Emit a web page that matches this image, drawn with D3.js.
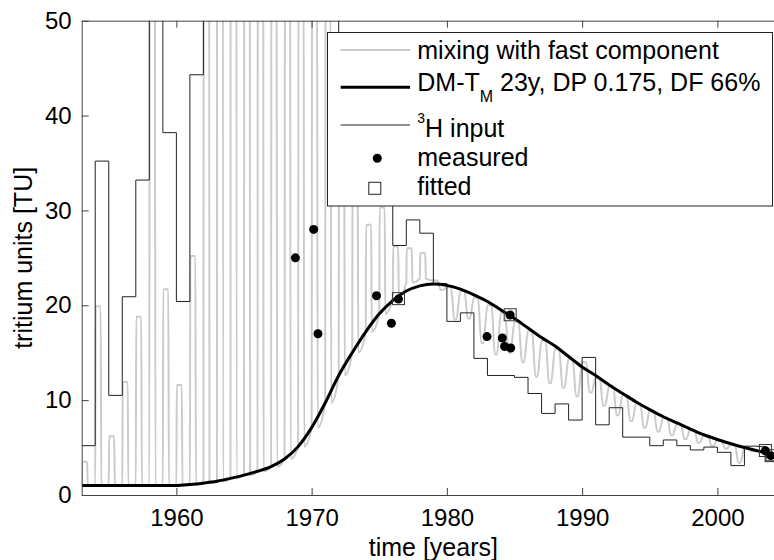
<!DOCTYPE html>
<meta charset="utf-8">
<head>
<script src="https://d3js.org/d3.v7.min.js"></script>
<style>
body { margin: 0; background: #fff; }
text { font-family: "Liberation Sans", Arial, Helvetica, sans-serif; fill: #000; }
.tick text { font-size: 24px; }
.axis path, .axis line { stroke: #444; }
</style>
</head>
<body>
<div id="my_dataviz"></div>
<script>
// 3H input (annual steps; values above 50 leave the plot)
var inputStart = [1953, 1954, 1955, 1956, 1957, 1958, 1959, 1960, 1961, 1962, 1963, 1964, 1965,
  1966, 1967, 1968, 1969, 1970, 1971, 1972, 1973, 1974, 1975, 1976, 1977, 1978, 1979, 1980,
  1981, 1982, 1983, 1984, 1985, 1986, 1987, 1988, 1989, 1990, 1991, 1992, 1993, 1994, 1995,
  1996, 1997, 1998, 1999, 2000, 2001, 2002, 2003, 2003.6];
var inputTU = [5.2, 35.2, 10.5, 20.9, 33.2, 120, 38.2, 20.4, 44.3, 200, 900, 600, 300,
  180, 120, 110, 100, 90, 80, 42, 40, 38, 35, 26.3, 29.0, 27.6, 22.3, 18.3,
  19.2, 14.4, 12.6, 12.6, 12.4, 10.7, 8.6, 9.6, 7.9, 14.5, 7.4, 9.2, 6.1, 6.1, 5.2,
  5.8, 5.2, 4.75, 5.05, 4.5, 3.1, 5.15, 5.1, 3.6];

// mixing with fast component: winter level and summer level for each year
var mixYear = d3.range(1953, 2005);
var mixLow = [1.0, 1.0, 1.0, 1.0, 1.0, 1.0, 1.0, 1.0, 1.1, 1.25, 1.45, 1.75, 2.1,
  2.5, 3.0, 3.8, 5.1, 7.1, 9.7, 12.6, 15.0, 17.2, 19.1, 20.8, 22.4, 22.8, 21.6, 18.5,
  18.6, 16.0, 14.8, 15.0, 14.0, 12.5, 11.8, 11.3, 10.4, 10.8, 9.4, 8.4, 7.8, 7.1, 6.7,
  6.3, 5.9, 5.5, 5.2, 4.9, 3.4, 4.6, 4.2, 4.0];
var mixHigh = [3.5, 19.9, 6.2, 11.9, 18.8, 75, 21.7, 11.6, 25.2, 110, 300, 250, 150,
  100, 70, 65, 60, 55, 52, 45, 36, 28.5, 30.3, 26.2, 26.0, 25.5, 22.6, 21.9,
  21.5, 20.8, 20.0, 19.2, 18.3, 17.3, 16.3, 15.4, 14.4, 14.0, 12.4, 11.5, 10.6, 9.7, 8.9,
  8.2, 7.5, 6.9, 6.3, 5.8, 5.3, 5.0, 4.6, 4.3];

// DM model curve
var dmYear = d3.range(1953, 2006);
var dmTU = [1.0, 1.0, 1.0, 1.0, 1.0, 1.0, 1.0, 1.0, 1.1, 1.25, 1.45, 1.75, 2.1,
  2.5, 3.0, 3.8, 5.1, 7.1, 9.7, 12.6, 15.0, 17.2, 19.1, 20.5, 21.5, 22.05, 22.25, 22.1,
  21.7, 21.1, 20.4, 19.5, 18.6, 17.6, 16.6, 15.7, 14.6, 13.5, 12.6, 11.6, 10.7, 9.8, 9.0,
  8.25, 7.6, 6.95, 6.35, 5.85, 5.4, 5.0, 4.65, 4.3, 4.0];

// samples
var measYear = [1968.8, 1970.15, 1970.47, 1974.8, 1975.9, 1976.42, 1982.97, 1984.1, 1984.27, 1984.72, 1984.68, 2003.55, 2003.95];
var measTU = [25.0, 28.0, 17.0, 21.0, 18.1, 20.65, 16.7, 16.55, 15.65, 15.5, 18.98, 4.67, 4.15];
var fitYear = [1976.42, 1984.68, 2003.55, 2003.97];
var fitTU = [20.7, 19.0, 4.69, 4.15];

var xTicks = [1960, 1970, 1980, 1990, 2000];
var yTicks = [0, 10, 20, 30, 40, 50];

var W = 774, H = 560;
var plot = {left: 81.7, right: 785, top: 20.7, bottom: 495};

var svg = d3.select("#my_dataviz")
  .append("svg")
    .attr("width", W)
    .attr("height", H)
    .style("display", "block");

var x = d3.scaleLinear().domain([1953, 2005]).range([plot.left, plot.right]);
var y = d3.scaleLinear().domain([0, 50]).range([plot.bottom, plot.top]);

svg.append("clipPath").attr("id", "clip")
  .append("rect")
    .attr("x", plot.left).attr("y", plot.top)
    .attr("width", plot.right - plot.left).attr("height", plot.bottom - plot.top);

var g = svg.append("g").attr("clip-path", "url(#clip)");

// gray mixing line: spikes early, rounded dips later
var mixPts = [];
mixYear.forEach(function(yr, i) {
  if (yr < 1979) {
    mixPts.push([yr, mixLow[i]], [yr + 0.03, mixHigh[i]], [yr + 0.40, mixHigh[i]], [yr + 0.45, mixLow[i]]);
  } else {
    mixPts.push([yr, mixHigh[i]], [yr + 0.3, mixHigh[i]], [yr + 0.55, mixLow[i]], [yr + 0.7, mixLow[i]]);
  }
});
g.append("path")
  .datum(mixPts)
  .attr("fill", "none")
  .attr("stroke", "#cbcbcb")
  .attr("stroke-width", 2)
  .attr("d", d3.line().curve(d3.curveMonotoneX)
    .x(function(d) { return x(d[0]); })
    .y(function(d) { return y(d[1]); }));

// 3H input steps
var inPts = inputStart.map(function(s, i) { return [s, inputTU[i]]; });
inPts.push([2005, inputTU[inputTU.length - 1]]);
g.append("path")
  .datum(inPts)
  .attr("fill", "none")
  .attr("stroke", "#222")
  .attr("stroke-width", 1)
  .attr("d", d3.line().curve(d3.curveStepAfter)
    .x(function(d) { return x(d[0]); })
    .y(function(d) { return y(d[1]); }));

// DM curve
g.append("path")
  .datum(dmYear.map(function(v, i) { return [v, dmTU[i]]; }))
  .attr("fill", "none")
  .attr("stroke", "#000")
  .attr("stroke-width", 3)
  .attr("d", d3.line().curve(d3.curveMonotoneX)
    .x(function(d) { return x(d[0]); })
    .y(function(d) { return y(d[1]); }));

// fitted squares
g.selectAll("rect.fit")
  .data(fitYear)
  .enter().append("rect")
    .attr("class", "fit")
    .attr("x", function(d) { return x(d) - 6; })
    .attr("y", function(d, i) { return y(fitTU[i]) - 6; })
    .attr("width", 12).attr("height", 12)
    .attr("fill", "none")
    .attr("stroke", "#333")
    .attr("stroke-width", 1);

// measured dots
g.selectAll("circle.meas")
  .data(measYear)
  .enter().append("circle")
    .attr("class", "meas")
    .attr("cx", function(d) { return x(d); })
    .attr("cy", function(d, i) { return y(measTU[i]); })
    .attr("r", 4.5)
    .attr("fill", "#000");

// axes, ticks inside like matlab
svg.append("g")
  .attr("class", "axis")
  .attr("transform", "translate(0," + plot.bottom + ")")
  .call(d3.axisBottom(x).tickValues(xTicks).tickFormat(d3.format("d"))
    .tickSizeInner(-7).tickSizeOuter(0).tickPadding(13.5));
svg.append("g")
  .attr("class", "axis")
  .attr("transform", "translate(0," + plot.top + ")")
  .call(d3.axisTop(x).tickValues(xTicks).tickFormat("")
    .tickSizeInner(-7).tickSizeOuter(0));
svg.append("g")
  .attr("class", "axis")
  .attr("transform", "translate(" + plot.left + ",0)")
  .call(d3.axisLeft(y).tickValues(yTicks)
    .tickSizeInner(-7).tickSizeOuter(0).tickPadding(10));
svg.selectAll(".axis .domain").attr("stroke", "#444");
svg.selectAll(".tick text").attr("fill", "#000");

// axis titles
svg.append("text")
  .attr("x", (plot.left + plot.right) / 2)
  .attr("y", 547)
  .attr("dy", ".35em")
  .attr("text-anchor", "middle")
  .style("font-size", "25px")
  .text("time [years]");
svg.append("text")
  .attr("transform", "translate(23," + ((plot.top + plot.bottom) / 2) + ") rotate(-90)")
  .attr("dy", ".35em")
  .attr("text-anchor", "middle")
  .style("font-size", "25px")
  .text("tritium units [TU]");

// legend
var leg = svg.append("g");
leg.append("rect")
  .attr("x", 327.5).attr("y", 32.5)
  .attr("width", 445).attr("height", 173.5)
  .attr("fill", "#fff")
  .attr("stroke", "#222")
  .attr("stroke-width", 1);

var lx1 = 340.7, lx2 = 410, tx = 417.3;
leg.append("line").attr("x1", lx1).attr("x2", lx2).attr("y1", 50).attr("y2", 50)
  .attr("stroke", "#cbcbcb").attr("stroke-width", 2);
leg.append("line").attr("x1", lx1).attr("x2", lx2).attr("y1", 87.3).attr("y2", 87.3)
  .attr("stroke", "#000").attr("stroke-width", 3);
leg.append("line").attr("x1", lx1).attr("x2", lx2).attr("y1", 125).attr("y2", 125)
  .attr("stroke", "#222").attr("stroke-width", 1);
leg.append("circle").attr("cx", 377.3).attr("cy", 158.3).attr("r", 4.5).attr("fill", "#000");
leg.append("rect").attr("x", 368.8).attr("y", 182.3).attr("width", 12).attr("height", 12)
  .attr("fill", "#fff").attr("stroke", "#222").attr("stroke-width", 1);

leg.append("text").attr("x", tx).attr("y", 59.3).style("font-size", "25px")
  .text("mixing with fast component");
var t2 = leg.append("text").attr("x", tx).attr("y", 90.7).style("font-size", "25px");
t2.append("tspan").text("DM-T");
t2.append("tspan").attr("dy", 11).style("font-size", "16px").text("M");
t2.append("tspan").attr("dy", -11).text(" 23y, DP 0.175, DF 66%");
var t3 = leg.append("text").attr("x", tx).attr("y", 137.3).style("font-size", "25px");
t3.append("tspan").attr("dy", -14).style("font-size", "14px").text("3");
t3.append("tspan").attr("dy", 14).text("H input");
leg.append("text").attr("x", tx).attr("y", 165.7).style("font-size", "25px").text("measured");
leg.append("text").attr("x", tx).attr("y", 195).style("font-size", "25px").text("fitted");
</script>
</body>
</html>
